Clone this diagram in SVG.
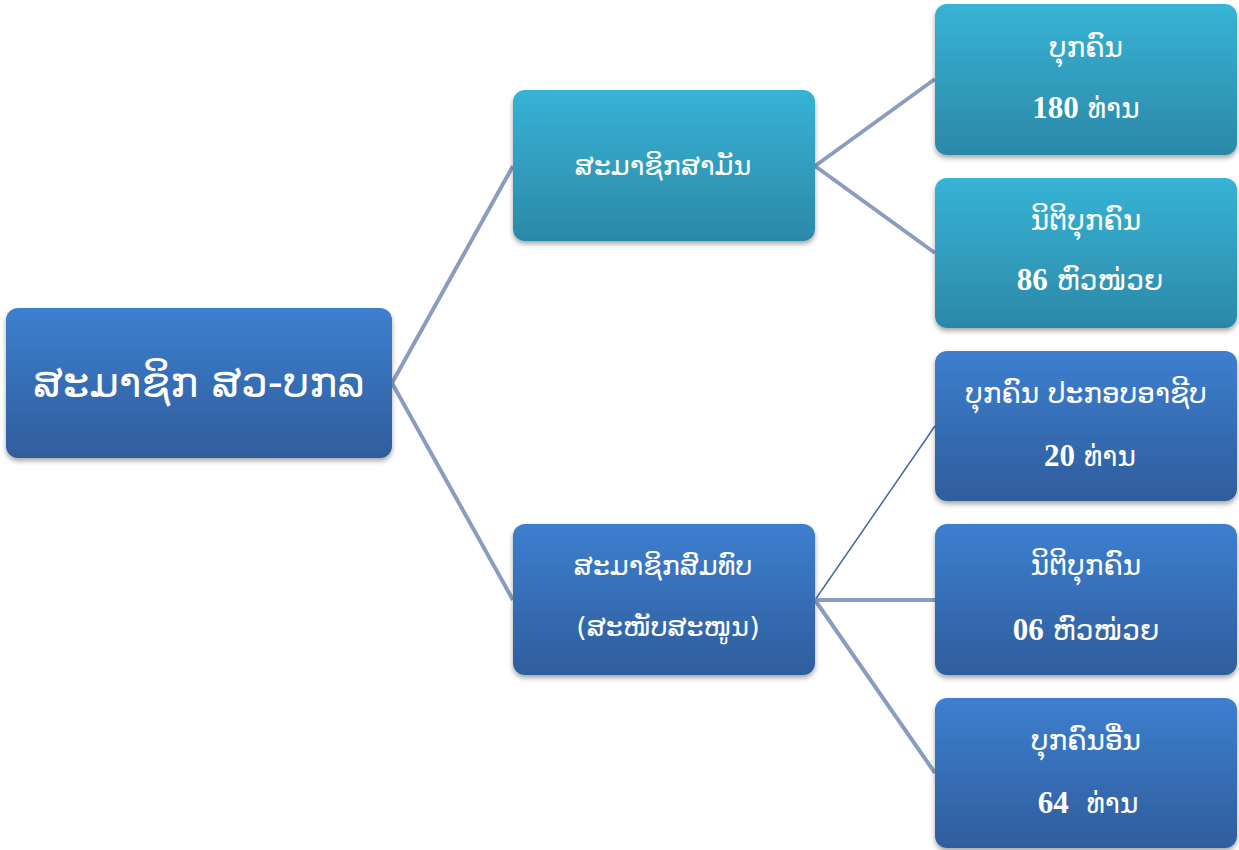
<svg xmlns="http://www.w3.org/2000/svg" width="1239" height="850" viewBox="0 0 1239 850">
<defs>
<linearGradient id="gBlue" x1="0" y1="0" x2="0" y2="1">
<stop offset="0" stop-color="#3d7fcf"/>
<stop offset="1" stop-color="#2f5d9c"/>
</linearGradient>
<linearGradient id="gCyan" x1="0" y1="0" x2="0" y2="1">
<stop offset="0" stop-color="#37b3d6"/>
<stop offset="1" stop-color="#2c88a7"/>
</linearGradient>
<filter id="sh" x="-10%" y="-10%" width="120%" height="130%">
<feDropShadow dx="0" dy="3" stdDeviation="2.5" flood-color="#000" flood-opacity="0.35"/>
</filter>
<style>
.blue{fill:url(#gBlue);filter:url(#sh);}
.cyan{fill:url(#gCyan);filter:url(#sh);}
.t{fill:#fff;font-family:"DejaVu Sans","Noto Sans",sans-serif;text-anchor:middle;}
.n{font-family:"Liberation Serif",serif;font-weight:bold;}
.c{fill:none;stroke:#8a9dc0;stroke-width:4;}
.c2{fill:none;stroke:#4468a0;stroke-width:1.5;}
</style>
</defs>
<g id="connectors">
<line class="c" x1="392" y1="383" x2="513" y2="166"/>
<line class="c" x1="392" y1="383" x2="513" y2="600"/>
<line class="c" x1="815" y1="166" x2="935" y2="79"/>
<line class="c" x1="815" y1="166" x2="935" y2="253"/>
<line class="c2" x1="815" y1="600" x2="935" y2="426"/>
<line class="c" x1="815" y1="600" x2="935" y2="600"/>
<line class="c" x1="815" y1="600" x2="935" y2="773"/>
</g>
<g id="root">
<rect class="blue" x="6" y="308" width="386" height="150" rx="12"/>
<text class="t" x="199" y="397" font-size="42">ສະມາຊິກ ສວ-ບກລ</text>
</g>
<g id="mid1">
<rect class="cyan" x="513" y="90" width="302" height="151" rx="12"/>
<text class="t" x="663" y="175" font-size="27">ສະມາຊິກສາມັນ</text>
</g>
<g id="mid2">
<rect class="blue" x="513" y="524" width="302" height="151" rx="12"/>
<text class="t" x="663" y="575" font-size="27">ສະມາຊິກສົມທົບ</text>
<text class="t" x="668" y="636" font-size="27">(ສະໜັບສະໜູນ)</text>
</g>
<g id="r1">
<rect class="cyan" x="935" y="4" width="302" height="151" rx="12"/>
<text class="t" x="1086" y="57" font-size="28">ບຸກຄົນ</text>
<text class="t" x="1086" y="118" font-size="28"><tspan class="n" font-size="31">180</tspan> ທ່ານ</text>
</g>
<g id="r2">
<rect class="cyan" x="935" y="178" width="302" height="150" rx="12"/>
<text class="t" x="1086" y="230" font-size="28">ນິຕິບຸກຄົນ</text>
<text class="t" x="1090" y="290" font-size="28"><tspan class="n" font-size="31">86</tspan> ຫົວໜ່ວຍ</text>
</g>
<g id="r3">
<rect class="blue" x="935" y="351" width="302" height="150" rx="12"/>
<text class="t" x="1086" y="403" font-size="28">ບຸກຄົນ ປະກອບອາຊີບ</text>
<text class="t" x="1090" y="466" font-size="28"><tspan class="n" font-size="31">20</tspan> ທ່ານ</text>
</g>
<g id="r4">
<rect class="blue" x="935" y="524" width="302" height="151" rx="12"/>
<text class="t" x="1086" y="575" font-size="28">ນິຕິບຸກຄົນ</text>
<text class="t" x="1086" y="640" font-size="28"><tspan class="n" font-size="31">06</tspan> ຫົວໜ່ວຍ</text>
</g>
<g id="r5">
<rect class="blue" x="935" y="698" width="302" height="150" rx="12"/>
<text class="t" x="1086" y="750" font-size="28">ບຸກຄົນອື່ນ</text>
<text class="t" x="1088" y="813" font-size="28" xml:space="preserve"><tspan class="n" font-size="31">64</tspan>  ທ່ານ</text>
</g>
</svg>
